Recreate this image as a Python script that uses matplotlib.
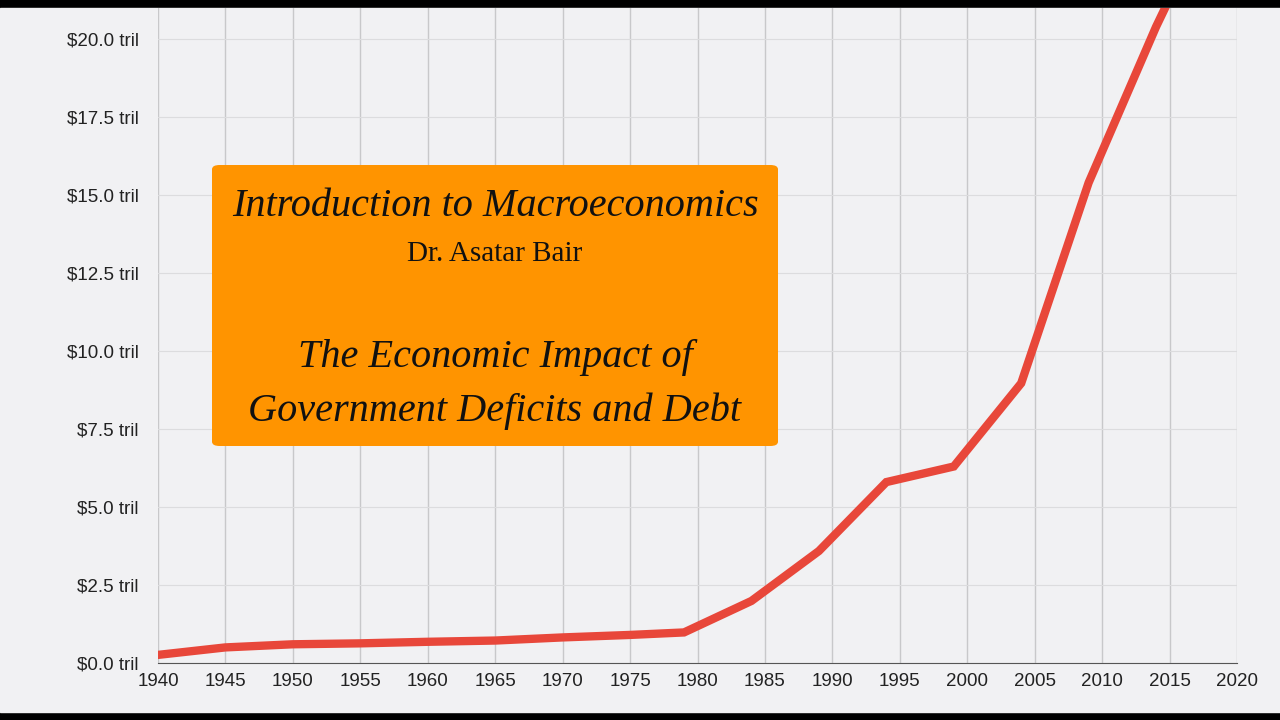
import matplotlib
matplotlib.use("Agg")
import matplotlib.pyplot as plt
from matplotlib.patches import Rectangle, FancyBboxPatch

years = [1940, 1945, 1950, 1955, 1960, 1965, 1970, 1975, 1979, 1984, 1989, 1994, 1999, 2004, 2009, 2014, 2015]
debt = [0.26, 0.5, 0.6, 0.63, 0.68, 0.72, 0.82, 0.9, 0.98, 1.99, 3.59, 5.8, 6.3, 8.97, 15.4, 20.4, 21.3]
yticks = [0, 2.5, 5, 7.5, 10, 12.5, 15, 17.5, 20]
ylabels = ["$0.0 tril", "$2.5 tril", "$5.0 tril", "$7.5 tril", "$10.0 tril", "$12.5 tril", "$15.0 tril", "$17.5 tril", "$20.0 tril"]
xticks = list(range(1940, 2021, 5))

plt.rcParams["font.family"] = ["Liberation Sans", "DejaVu Sans"]
fig = plt.figure(figsize=(12.8, 7.2), dpi=100, facecolor="black")
fig.add_artist(Rectangle((0, 8/720), 1, 704/720, transform=fig.transFigure, color="#f1f1f3", zorder=0))
ax = fig.add_axes([158/1280, 57/720, (1237-158)/1280, (712-57)/720])
ax.set_facecolor("#f1f1f3")
ax.set_xlim(1940, 2020)
ax.set_ylim(0, 21.0)
ax.set_xticks(xticks)
ax.set_yticks(yticks)
ax.set_yticklabels(ylabels)
ax.tick_params(length=0, labelsize=13.5, colors="#222222")
ax.tick_params(axis="y", pad=14)
ax.tick_params(axis="x", pad=7)
for s in ["top", "right", "left"]:
    ax.spines[s].set_visible(False)
ax.spines["bottom"].set_color("#555555")
for x in xticks:
    ax.axvline(x, color="#c8c8ca", lw=1, zorder=1)
for y in yticks:
    ax.axhline(y, color="#dcdcde", lw=0.8, zorder=1)
ax.plot(years, debt, color="#e8473a", lw=6, solid_joinstyle="miter", zorder=3, clip_on=True)

box = FancyBboxPatch((212/1280, (720-446)/720), (778-212)/1280, (446-165)/720,
                     boxstyle="round,pad=0,rounding_size=0.006", transform=fig.transFigure,
                     facecolor="#ff9400", edgecolor="none", zorder=5)
fig.add_artist(box)
cx = 495/1280
kw = dict(family="Liberation Serif", color="#111111", ha="center", va="center", zorder=6)
fig.text(cx, 1 - 207/720, "Introduction to Macroeconomics", fontsize=29, style="italic", **kw)
fig.text(cx, 1 - 254/720, "Dr. Asatar Bair", fontsize=21, **kw)
fig.text(cx, 1 - 358/720, "The Economic Impact of", fontsize=29, style="italic", **kw)
fig.text(cx, 1 - 411/720, "Government Deficits and Debt", fontsize=29, style="italic", **kw)
fig.savefig("out.png", dpi=100, facecolor="black")
